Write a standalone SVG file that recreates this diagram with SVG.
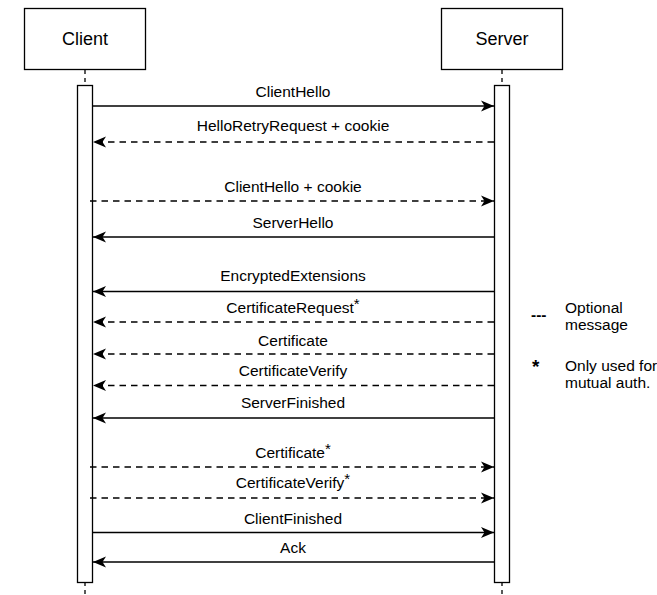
<svg xmlns="http://www.w3.org/2000/svg" width="657" height="595" viewBox="0 0 657 595">
<defs>
<marker id="ah" markerUnits="userSpaceOnUse" markerWidth="14" markerHeight="12" viewBox="0 0 14 12" refX="13" refY="6" orient="auto">
<path d="M0,0.5 L13,6 L0,11.5 L3.5,6 Z" fill="#000"/>
</marker>
<style>
text{font-family:"Liberation Sans",Arial,Helvetica,sans-serif;fill:#000}
.box{fill:#fff;stroke:#000;stroke-width:1.3}
.life{stroke:#000;stroke-width:1.3;stroke-dasharray:4 4;fill:none}
.msg{stroke:#000;stroke-width:1.3;fill:none;marker-end:url(#ah)}
.dash{stroke-dasharray:6.5 5}
.lbl{font-size:15.5px;text-anchor:middle}
.hdr{font-size:18px;text-anchor:middle}
.leg{font-size:15.5px}
.sup{font-size:15px}
</style>
</defs>
<g id="lifelines">
<line class="life" x1="85" y1="70" x2="85" y2="595"/>
<line class="life" x1="502" y1="70" x2="502" y2="595"/>
</g>
<g id="client">
<rect class="box" x="24.5" y="8.5" width="121" height="61"/>
<text class="hdr" x="85" y="45">Client</text>
<rect class="box" x="77.5" y="85.5" width="15" height="497"/>
</g>
<g id="server">
<rect class="box" x="441.5" y="8.5" width="121" height="61"/>
<text class="hdr" x="502" y="45">Server</text>
<rect class="box" x="494.5" y="85.5" width="15" height="497"/>
</g>
<g id="connectors">
<line class="msg" x1="93" y1="106" x2="494" y2="106"/>
<text class="lbl" x="293" y="97">ClientHello</text>
<line class="msg dash" x1="494" y1="142" x2="93" y2="142"/>
<text class="lbl" x="293" y="131">HelloRetryRequest + cookie</text>
<line class="msg dash" x1="90" y1="201" x2="494" y2="201"/>
<text class="lbl" x="293" y="192">ClientHello + cookie</text>
<line class="msg" x1="494" y1="237" x2="93" y2="237"/>
<text class="lbl" x="293" y="228">ServerHello</text>
<line class="msg" x1="494" y1="291.5" x2="93" y2="291.5"/>
<text class="lbl" x="293" y="281">EncryptedExtensions</text>
<line class="msg dash" x1="494" y1="322" x2="93" y2="322"/>
<text class="lbl" x="293" y="313">CertificateRequest<tspan class="sup" dy="-4">*</tspan></text>
<line class="msg dash" x1="494" y1="354" x2="93" y2="354"/>
<text class="lbl" x="293" y="346">Certificate</text>
<line class="msg dash" x1="494" y1="385.5" x2="93" y2="385.5"/>
<text class="lbl" x="293" y="376">CertificateVerify</text>
<line class="msg" x1="494" y1="418" x2="93" y2="418"/>
<text class="lbl" x="293" y="407.5">ServerFinished</text>
<line class="msg dash" x1="90" y1="467" x2="494" y2="467"/>
<text class="lbl" x="293" y="457.5">Certificate<tspan class="sup" dy="-4">*</tspan></text>
<line class="msg dash" x1="90" y1="498" x2="494" y2="498"/>
<text class="lbl" x="293" y="488">CertificateVerify<tspan class="sup" dy="-4">*</tspan></text>
<line class="msg" x1="93" y1="532.5" x2="494" y2="532.5"/>
<text class="lbl" x="293" y="524">ClientFinished</text>
<line class="msg" x1="494" y1="562" x2="93" y2="562"/>
<text class="lbl" x="293" y="552.5">Ack</text>
</g>
<g id="legend">
<text class="leg" x="531" y="320" font-weight="bold">---</text>
<text class="leg" x="565" y="313">Optional</text>
<text class="leg" x="565" y="330">message</text>
<text x="532" y="373" font-size="19" font-weight="bold">*</text>
<text class="leg" x="565" y="371">Only used for</text>
<text class="leg" x="565" y="388">mutual auth.</text>
</g>
</svg>
